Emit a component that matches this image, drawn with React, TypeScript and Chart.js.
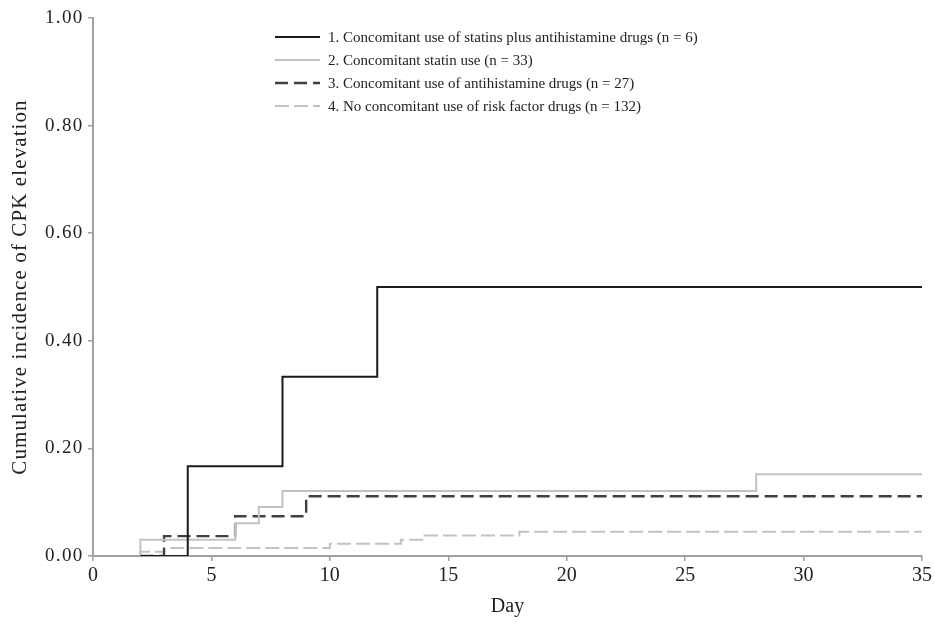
import React, { useEffect, useRef } from "react";
import { Chart, registerables } from "chart.js";

Chart.register(...registerables);

const legendLabels = [
  "1. Concomitant use of statins plus antihistamine drugs (n = 6)",
  "2. Concomitant statin use (n = 33)",
  "3. Concomitant use of antihistamine drugs (n = 27)",
  "4. No concomitant use of risk factor drugs (n = 132)",
];

const days1 = [2, 4, 8, 12, 35];
const incidence1 = [0, 0.167, 0.333, 0.5, 0.5];

const days2 = [2, 2, 6, 7, 8, 28, 35];
const incidence2 = [0, 0.03, 0.061, 0.091, 0.121, 0.152, 0.152];

const days3 = [2, 3, 6, 9, 35];
const incidence3 = [0, 0.037, 0.074, 0.111, 0.111];

const days4 = [2, 2, 3, 10, 13, 14, 18, 35];
const incidence4 = [0, 0.008, 0.015, 0.023, 0.03, 0.038, 0.045, 0.045];

const xTicksMin = 0;
const xTicksMax = 35;
const xStep = 5;
const yTicksMin = 0;
const yTicksMax = 1;
const yStep = 0.2;

const yTitle = "Cumulative incidence of CPK elevation";
const xTitle = "Day";

const SERIF = '"Liberation Serif", "Times New Roman", serif';
const AXIS_COLOR = "#a0a0a0";
const TEXT_COLOR = "#222";

const toPoints = (xs: number[], ys: number[]) => xs.map((x, i) => ({ x, y: ys[i] }));

const overlayPlugin = {
  id: "overlay",
  afterDraw(chart: any) {
    const ctx = chart.ctx as CanvasRenderingContext2D;
    const ys = chart.scales.y;
    const area = chart.chartArea;
    ctx.save();
    // y tick labels
    ctx.fillStyle = TEXT_COLOR;
    ctx.font = `19px ${SERIF}`;
    (ctx as any).letterSpacing = "1.3px";
    ctx.textAlign = "right";
    ctx.textBaseline = "middle";
    ys.ticks.forEach((t: any) => {
      ctx.fillText(Number(t.value).toFixed(2), ys.right - 9.5, ys.getPixelForValue(t.value));
    });
    // y title
    ctx.save();
    ctx.font = `21px ${SERIF}`;
    (ctx as any).letterSpacing = "1.1px";
    ctx.translate(20, (area.top + area.bottom) / 2);
    ctx.rotate(-Math.PI / 2);
    ctx.textAlign = "center";
    ctx.textBaseline = "middle";
    ctx.fillText(yTitle, 0, 0);
    ctx.restore();
    // legend
    (ctx as any).letterSpacing = "0px";
    ctx.font = `15px ${SERIF}`;
    ctx.textAlign = "left";
    ctx.textBaseline = "middle";
    chart.data.datasets.forEach((ds: any, i: number) => {
      const y = 37 + i * 23;
      ctx.save();
      ctx.strokeStyle = ds.borderColor;
      ctx.lineWidth = ds.borderWidth;
      ctx.setLineDash(ds.borderDash || []);
      ctx.beginPath();
      ctx.moveTo(275, y);
      ctx.lineTo(320, y);
      ctx.stroke();
      ctx.restore();
      ctx.fillStyle = TEXT_COLOR;
      ctx.fillText(legendLabels[i], 328, y + 1);
    });
    ctx.restore();
  },
};

export default function App() {
  const canvasRef = useRef<HTMLCanvasElement | null>(null);

  useEffect(() => {
    if (!canvasRef.current) return;
    const chart = new Chart(canvasRef.current, {
      type: "line",
      data: {
        datasets: [
          {
            label: legendLabels[0],
            data: toPoints(days1, incidence1),
            borderColor: "#1a1a1a",
            borderWidth: 2,
            stepped: "before",
            pointRadius: 0,
            fill: false,
          },
          {
            label: legendLabels[1],
            data: toPoints(days2, incidence2),
            borderColor: "#c2c2c2",
            borderWidth: 2,
            stepped: "before",
            pointRadius: 0,
            fill: false,
          },
          {
            label: legendLabels[2],
            data: toPoints(days3, incidence3),
            borderColor: "#404040",
            borderWidth: 2.4,
            borderDash: [13, 6],
            stepped: "before",
            pointRadius: 0,
            fill: false,
          },
          {
            label: legendLabels[3],
            data: toPoints(days4, incidence4),
            borderColor: "#c2c2c2",
            borderWidth: 2,
            borderDash: [14, 5],
            stepped: "before",
            pointRadius: 0,
            fill: false,
          },
        ],
      } as any,
      options: {
        animation: false,
        responsive: false,
        devicePixelRatio: 1,
        layout: { padding: { top: 18, right: 11, left: 0, bottom: 0 } },
        plugins: {
          legend: { display: false },
          tooltip: { enabled: false },
        },
        scales: {
          x: {
            type: "linear",
            min: xTicksMin,
            max: xTicksMax,
            afterFit: (scale: any) => {
              scale.height = 68;
            },
            ticks: {
              stepSize: xStep,
              color: TEXT_COLOR,
              font: { family: SERIF, size: 20 },
              padding: 3,
              maxRotation: 0,
            },
            grid: {
              drawOnChartArea: false,
              drawTicks: true,
              tickLength: 5,
              color: AXIS_COLOR,
              lineWidth: 1.5,
            },
            border: { display: true, color: AXIS_COLOR, width: 2 },
            title: {
              display: true,
              text: xTitle,
              color: TEXT_COLOR,
              font: { family: SERIF, size: 20 },
              padding: { top: 0, bottom: 5 },
            },
          },
          y: {
            type: "linear",
            min: yTicksMin,
            max: yTicksMax,
            afterFit: (scale: any) => {
              scale.width = 93;
            },
            ticks: {
              stepSize: yStep,
              display: false,
            },
            grid: {
              drawOnChartArea: false,
              drawTicks: true,
              tickLength: 5,
              color: AXIS_COLOR,
              lineWidth: 1.5,
            },
            border: { display: true, color: AXIS_COLOR, width: 2 },
          },
        },
      } as any,
      plugins: [overlayPlugin],
    });
    return () => chart.destroy();
  }, []);

  return (
    <div style={{ position: "fixed", left: 0, top: 0, width: 935, height: 624, background: "#fff" }}>
      <canvas ref={canvasRef} width={935} height={624} style={{ display: "block" }} />
    </div>
  );
}
